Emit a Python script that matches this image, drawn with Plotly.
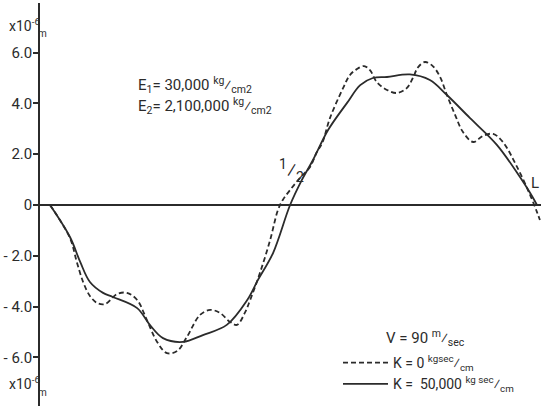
import plotly.graph_objects as go

# position along span (fraction of L) and deflection (x10^-6 m)
x_k0 = [0.0, 0.041, 0.055, 0.068, 0.082, 0.097, 0.113, 0.138, 0.158, 0.179, 0.199, 0.220,
        0.240, 0.261, 0.281, 0.308, 0.329, 0.349, 0.370, 0.384, 0.400, 0.411, 0.431, 0.452,
        0.468, 0.478, 0.493, 0.513, 0.534, 0.548, 0.559, 0.575, 0.602, 0.616, 0.630, 0.645,
        0.657, 0.671, 0.692, 0.713, 0.733, 0.745, 0.756, 0.770, 0.786, 0.801, 0.815, 0.832,
        0.848, 0.869, 0.889, 0.910, 0.930, 0.959, 0.986, 1.0, 1.006]
y_k0 = [0.0, -1.30, -2.24, -3.03, -3.58, -3.86, -3.90, -3.50, -3.46, -3.74, -4.53, -5.39,
        -5.83, -5.75, -5.20, -4.33, -4.13, -4.25, -4.61, -4.72, -4.25, -3.74, -2.68, -1.38,
        -0.20, 0.20, 0.59, 1.06, 1.50, 2.09, 2.44, 3.43, 4.61, 5.12, 5.35, 5.47,
        5.31, 4.84, 4.53, 4.41, 4.61, 5.00, 5.43, 5.63, 5.47, 5.04, 4.33, 3.54,
        2.87, 2.48, 2.72, 2.80, 2.48, 1.50, 0.39, -0.28, -0.59]

x_k50000 = [0.0, 0.041, 0.062, 0.082, 0.109, 0.129, 0.179, 0.205, 0.232, 0.273, 0.314, 0.363,
            0.405, 0.427, 0.458, 0.493, 0.517, 0.540, 0.571, 0.610, 0.637, 0.663, 0.692,
            0.739, 0.780, 0.815, 0.862, 0.918, 0.965, 0.986, 1.0]
y_k50000 = [0.0, -1.26, -2.24, -3.03, -3.46, -3.62, -4.06, -4.72, -5.24, -5.39, -5.12, -4.72,
            -3.74, -2.95, -1.89, 0.0, 0.98, 1.77, 2.95, 4.02, 4.72, 5.00, 5.04,
            5.14, 4.92, 4.33, 3.43, 2.36, 1.10, 0.47, 0.0]

y_ticks = [-6, -4, -2, 0, 2, 4, 6]
y_ticktext = ["- 6.0", "- 4.0", "- 2.0", "0", "2.0", "4.0", "6.0"]

W, H = 541, 406
ML, MR, MT, MB = 40, 0, 3, 0
FONT = "Roboto"
INK = "#2b2b2b"


def px(xp):
    return (xp - ML) / (W - ML - MR)


def py(yp):
    return (H - MB - yp) / (H - MT - MB)


fig = go.Figure()
fig.add_trace(go.Scatter(
    x=x_k0, y=y_k0, mode="lines",
    line=dict(color=INK, width=1.8, dash="5px,3px", shape="spline", smoothing=1.0),
    name="K = 0 <sup>kgsec</sup>⁄<sub>cm</sub>"))
fig.add_trace(go.Scatter(
    x=x_k50000, y=y_k50000, mode="lines",
    line=dict(color=INK, width=1.8, shape="spline", smoothing=1.0),
    name="K =  50,000 <sup>kg sec</sup>⁄<sub>cm</sub>"))

fig.update_xaxes(range=[-10 / 487, 491 / 487], visible=False, showgrid=False, zeroline=False)
fig.update_yaxes(range=[-201 / 25.4, 202 / 25.4], showgrid=False,
                 showline=True, linecolor=INK, linewidth=1.5,
                 zeroline=True, zerolinecolor=INK, zerolinewidth=1.5,
                 ticks="outside", ticklen=5, tickwidth=1.5, tickcolor=INK,
                 ticklabelstandoff=-2,
                 tickvals=y_ticks, ticktext=y_ticktext,
                 tickfont=dict(family=FONT, size=15, color=INK))

ann = []
def text(t, x, y, size=15, xanchor="left"):
    ann.append(dict(text=t, x=px(x), y=py(y), xref="paper", yref="paper",
                    xanchor=xanchor, yanchor="middle", showarrow=False,
                    font=dict(family=FONT, size=size, color=INK)))

text("x10<sup>-6</sup>", 7, 25, 14)
text("m", 36, 34, 10)
text("x10<sup>-6</sup>", 7, 383, 14)
text("m", 36, 392, 10)
text("E<sub>1</sub>= 30,000 <sup>kg</sup>⁄<sub>cm2</sub>", 136, 85, 15)
text("E<sub>2</sub>= 2,100,000 <sup>kg</sup>⁄<sub>cm2</sub>", 136, 106, 15)
text("<sup>1</sup>⁄<sub>2</sub>", 277, 170, 20)
text("L", 529, 183, 15)
text("V = 90 <sup>m</sup>⁄<sub>sec</sub>", 384, 338, 15)

fig.update_layout(
    width=W, height=H,
    margin=dict(l=ML, r=MR, t=MT, b=MB, pad=0),
    paper_bgcolor="white", plot_bgcolor="white",
    annotations=ann,
    showlegend=True,
    legend=dict(x=px(338), y=py(347), xanchor="left", yanchor="top",
                bgcolor="rgba(0,0,0,0)", itemwidth=45, tracegroupgap=0,
                font=dict(family=FONT, size=14, color=INK)),
)

fig.write_html("out.html", config={"displayModeBar": False},
               post_script="document.body.style.margin='0';")
